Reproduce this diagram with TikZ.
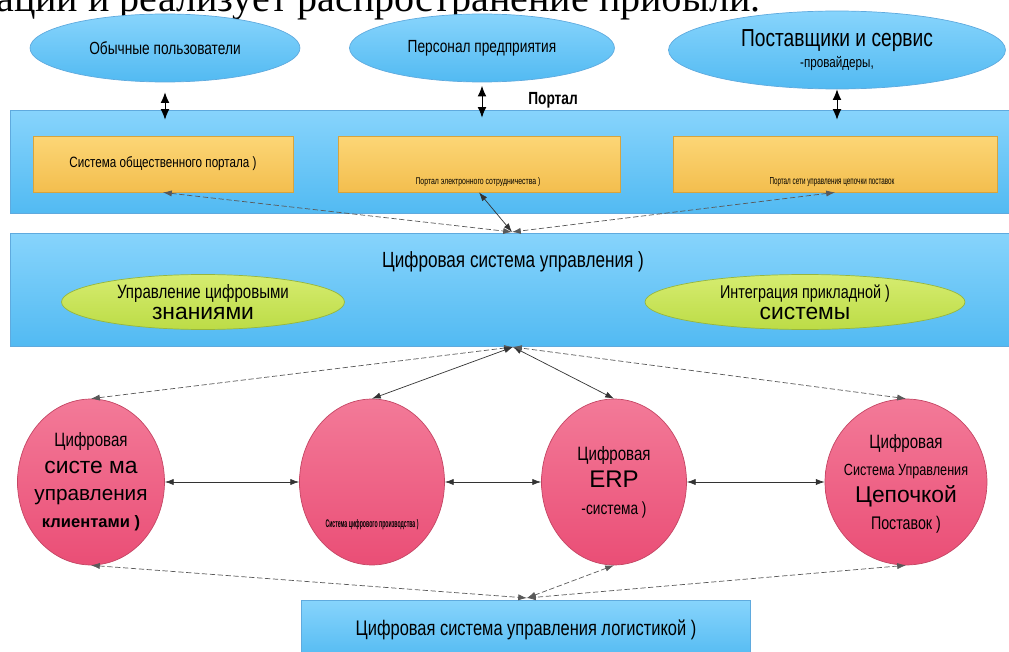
\documentclass[tikz,border=0pt]{standalone}
\usepackage{fontspec}
\usepackage{graphicx}
\setmainfont{Liberation Sans}
\newfontfamily\nar[FakeStretch=0.78]{Liberation Sans}
\newfontfamily\topfont{Liberation Serif}
\usetikzlibrary{shapes.geometric,arrows.meta}
\definecolor{bl_top}{RGB}{135,212,252}
\definecolor{bl_bot}{RGB}{82,186,242}
\definecolor{bl_line}{RGB}{95,170,222}
\definecolor{yl_top}{RGB}{252,214,118}
\definecolor{yl_bot}{RGB}{243,190,78}
\definecolor{yl_line}{RGB}{214,164,62}
\definecolor{gr_top}{RGB}{214,236,112}
\definecolor{gr_bot}{RGB}{188,220,70}
\definecolor{gr_line}{RGB}{150,182,62}
\definecolor{rd_top}{RGB}{243,122,152}
\definecolor{rd_bot}{RGB}{234,78,118}
\definecolor{rd_line}{RGB}{196,70,100}
\tikzstyle{band}=[rectangle,draw=bl_line,line width=0.4pt,top color=bl_top,
  bottom color=bl_bot,inner sep=0pt,minimum width=19.98cm]
\tikzstyle{be}=[ellipse,draw=bl_line,line width=0.4pt,top color=bl_top,
  bottom color=bl_bot,inner sep=0pt,align=center]
\tikzstyle{yb}=[rectangle,draw=yl_line,line width=0.5pt,top color=yl_top,
  bottom color=yl_bot,inner sep=0pt,minimum height=1.12cm]
\tikzstyle{ge}=[ellipse,draw=gr_line,line width=0.4pt,top color=gr_top,
  bottom color=gr_bot,inner sep=0pt,minimum height=1.1cm,align=center]
\tikzstyle{re}=[ellipse,draw=rd_line,line width=0.4pt,top color=rd_top,
  bottom color=rd_bot,inner sep=0pt,minimum height=3.32cm]
\tikzstyle{rt}=[inner sep=0pt,align=center,font=\nar\fontsize{11}{15.3}\selectfont]
\tikzstyle{vl}=[{Latex[length=6pt,width=5pt]}-{Latex[length=6pt,width=5pt]},
  line width=0.5pt]
\tikzstyle{sl}=[{Latex[length=5pt,width=3.5pt]}-{Latex[length=5pt,width=3.5pt]},
  line width=0.4pt,black!80]
\tikzstyle{dl}=[sl,dashed,dash pattern=on 3pt off 1.5pt,black!65]

\begin{document}
\begin{tikzpicture}[x=0.02cm,y=-0.02cm]
    \useasboundingbox (0,0) rectangle (1009,652);
    \clip (0,0) rectangle (1009,652);
    \node [anchor=base west,inner sep=0pt] (hd) at (-4,12)
      {\topfont\fontsize{22.8}{23}\selectfont ации и реализует распространение прибыли.};
    % two bands
    \node [style=band,minimum height=2.06cm] (pt) at (509.5,161.5) {};
    \node [style=band,minimum height=2.26cm] (dm) at (509.5,289.5) {};
    % users
    \node [style=be,minimum width=5.4cm,minimum height=1.36cm] (u1) at (165,48)
      {\nar\fontsize{10}{12}\selectfont Обычные пользователи};
    \node [style=be,minimum width=5.3cm,minimum height=1.36cm] (u2) at (482,48)
      {\nar\fontsize{10}{12}\selectfont Персонал предприятия};
    \node [style=be,minimum width=6.74cm,minimum height=1.56cm] (u3) at (837,50)
      {\nar\fontsize{14}{20}\selectfont Поставщики и сервис\\[0pt]
       \nar\fontsize{8.5}{10}\selectfont -провайдеры,};
    \node [font=\nar\bfseries\fontsize{10}{12}\selectfont] (pl) at (553,100) {Портал};
    \draw [style=vl] ([yshift=-5.7pt]u1.south) to ([yshift=-5.7pt]u1.south |- pt.north);
    \draw [style=vl] ([yshift=-2pt]u2.south) to ([yshift=-4.5pt]u2.south |- pt.north);
    \draw [style=vl] (u3.south) to ([yshift=-5.7pt]u3.south |- pt.north);
    % portal boxes
    \node [style=yb,minimum width=5.2cm] (b1) at (163,164)
      {\nar\fontsize{8.5}{10}\selectfont Система общественного портала )};
    \node [style=yb,minimum width=5.64cm] (b2) at (479,164) {};
    \node [style=yb,minimum width=6.48cm] (b3) at (835,164) {};
    \node [inner sep=0pt] (b2t) at (478,182)
      {\resizebox{2.5cm}{0.14cm}{\nar Портал электронного сотрудничества )}};
    \node [inner sep=0pt] (b3t) at (832,182)
      {\resizebox{2.5cm}{0.14cm}{\nar Портал сети управления цепочки поставок}};
    \coordinate (j1) at (512,232);
    \draw [style=dl] (b1.south) to (j1);
    \draw [style=sl] (b2.south) to (j1);
    \draw [style=dl] (b3.south) to (j1);
    % management
    \node [font=\nar\fontsize{12.5}{14}\selectfont] (dmt) at (513,262)
      {Цифровая система управления )};
    \node [style=ge,minimum width=5.66cm] (g1) at (203,302)
      {\nar\fontsize{11}{14}\selectfont Управление цифровыми\\
       \fontsize{13}{15}\selectfont знаниями};
    \node [style=ge,minimum width=6.4cm] (g2) at (805,302)
      {\nar\fontsize{10.5}{14}\selectfont Интеграция прикладной )\\
       \fontsize{13}{15}\selectfont системы};
    % digital systems
    \node [style=re,minimum width=2.94cm] (r1) at (91,482) {};
    \node [style=re,minimum width=2.9cm] (r2) at (372,482) {};
    \node [style=re,minimum width=2.9cm] (r3) at (614,482) {};
    \node [style=re,minimum width=3.24cm] (r4) at (906,482) {};
    \node [style=rt] (r1t) at (91,482)
      {Цифровая\\
       \normalfont\fontsize{13}{15.3}\selectfont систе ма\\
       \normalfont\fontsize{11.8}{15.3}\selectfont управления\\
       \normalfont\bfseries\fontsize{9.4}{15.3}\selectfont клиентами )};
    \node [inner sep=0pt] (r2t) at (372,525)
      {\resizebox{1.86cm}{0.16cm}{\nar\bfseries Система цифрового производства )}};
    \node [style=rt] (r3t) at (614,482)
      {Цифровая\\
       \normalfont\fontsize{13.7}{15.3}\selectfont ERP\\
       \fontsize{10}{15.3}\selectfont -система )};
    \node [style=rt] (r4t) at (906,484)
      {Цифровая\\
       \fontsize{9.2}{15.3}\selectfont Система Управления\\
       \normalfont\fontsize{13}{15.3}\selectfont Цепочкой\\
       \fontsize{10.4}{15.3}\selectfont Поставок )};
    \draw [style=sl] (r1.east) to (r2.west);
    \draw [style=sl] (r2.east) to (r3.west);
    \draw [style=sl] (r3.east) to (r4.west);
    \coordinate (j2) at (513,347);
    \draw [style=dl] (r1.north) to (j2);
    \draw [style=sl] (r2.north) to (j2);
    \draw [style=sl] (r3.north) to (j2);
    \draw [style=dl] (r4.north) to (j2);
    % logistics
    \node [style=band,minimum width=8.98cm,minimum height=1.2cm] (lg) at (526,630)
      {\nar\fontsize{12}{14}\selectfont Цифровая система управления логистикой )};
    \coordinate (j3) at (527,598);
    \draw [style=dl] (r1.south) to (j3);
    \draw [style=dl] (r3.south) to (j3);
    \draw [style=dl] (r4.south) to (j3);
\end{tikzpicture}
\end{document}
